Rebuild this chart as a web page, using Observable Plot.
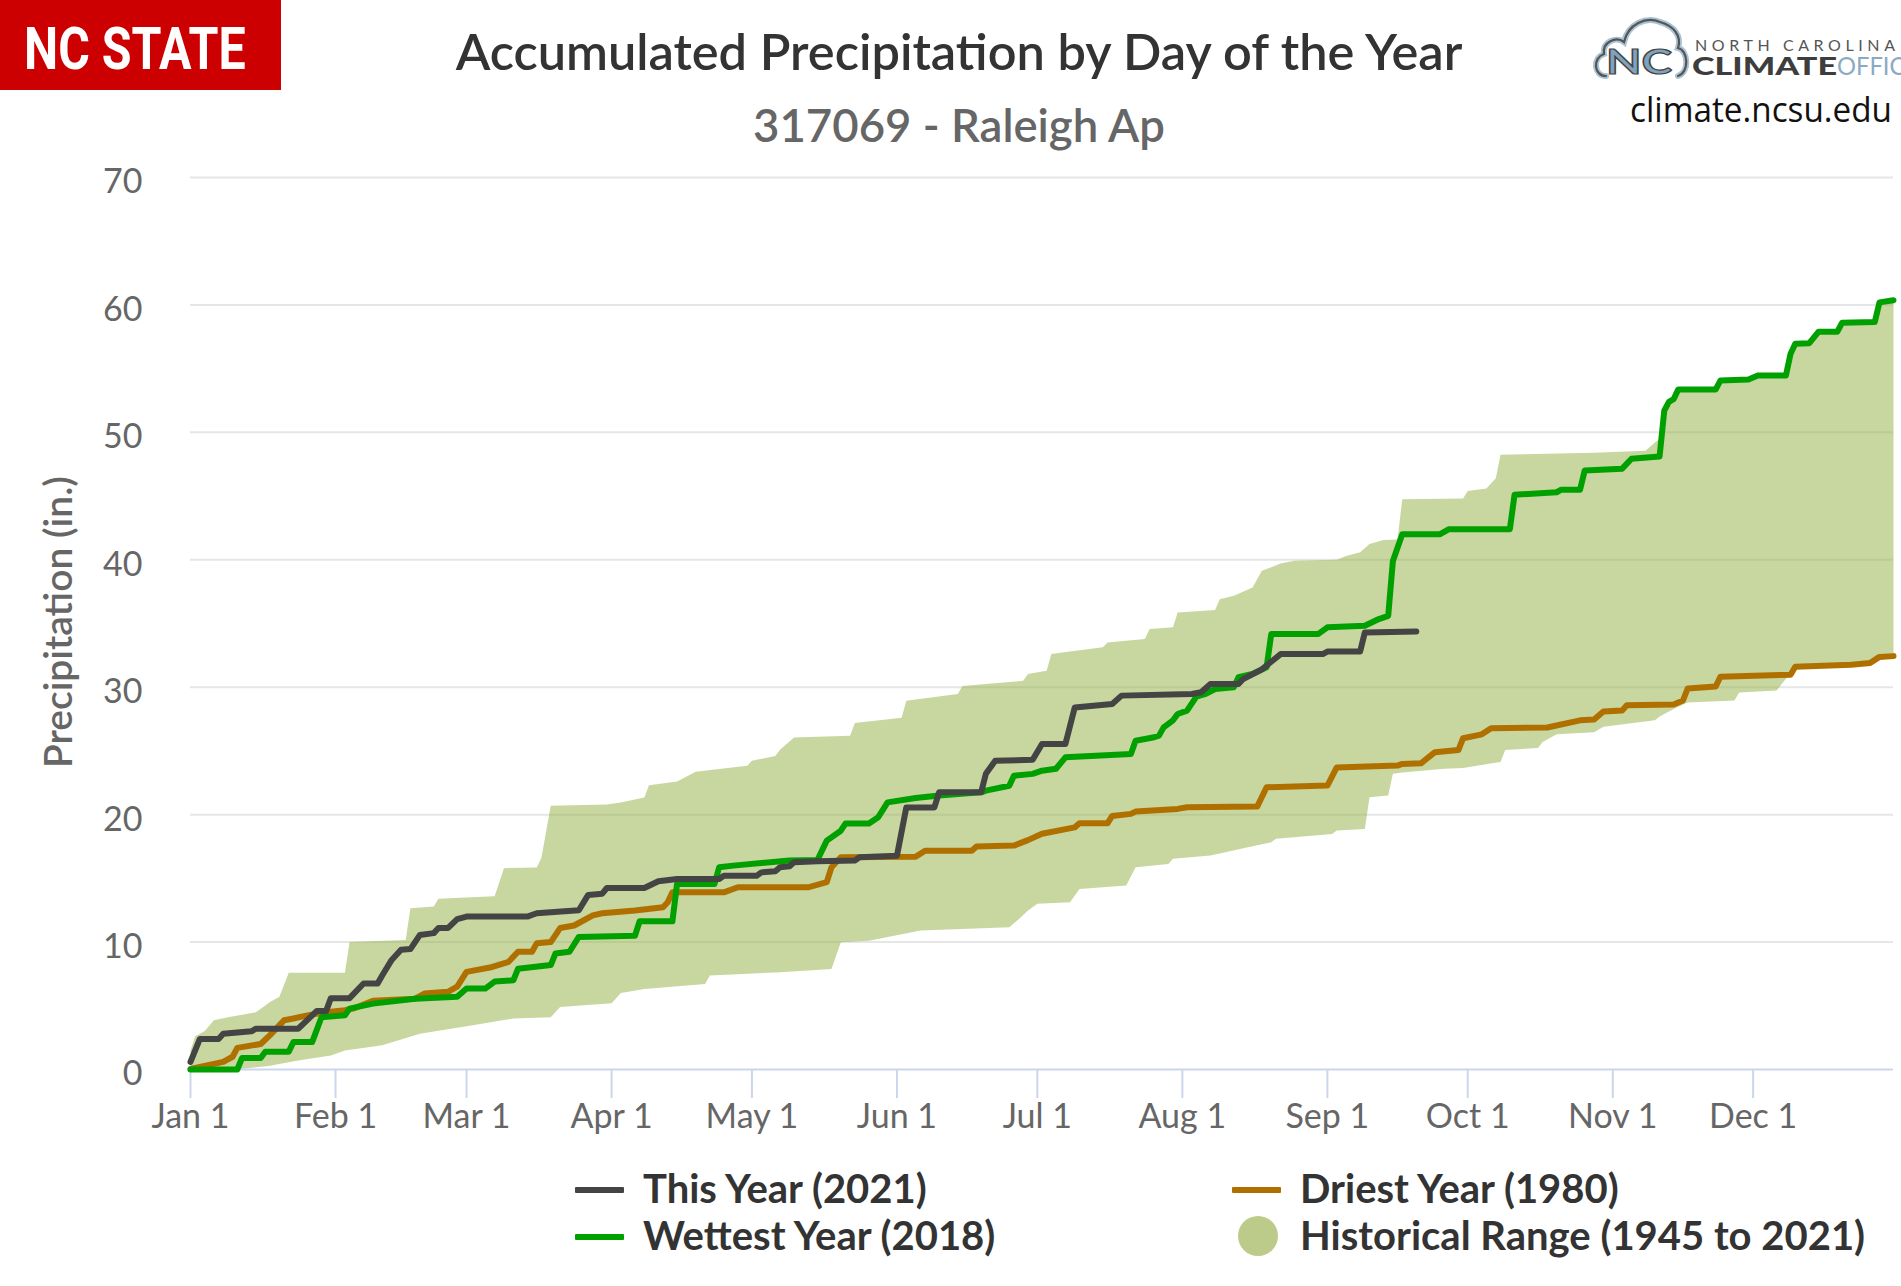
<!DOCTYPE html>
<html>
<head>
<meta charset="utf-8">
<script src="https://cdn.jsdelivr.net/npm/d3@7"></script>
<script src="https://cdn.jsdelivr.net/npm/@observablehq/plot@0.6"></script>
<style>
  html, body { margin: 0; padding: 0; background: #fff; }
  body { width: 1901px; height: 1286px; position: relative; overflow: hidden; font-family: Lato, "Open Sans", sans-serif; }
  .abs { position: absolute; white-space: nowrap; }
  #title { left: 409px; width: 1100px; text-align: center; top: 26px; font-size: 50.5px; line-height: 50.5px; font-weight: 600; color: #333; }
  #subtitle { left: 659px; width: 600px; text-align: center; top: 102px; font-size: 45.5px; line-height: 45.5px; font-weight: 600; color: #666; }
  #ytitle { left: -143px; top: 603px; width: 400px; height: 38px; line-height: 38px; text-align: center; font-size: 39px; font-weight: 600; color: #666; transform: rotate(-90deg); transform-origin: 200px 19px; }
  #chart { left: 0; top: 140px; }
  .leg { font-size: 40px; line-height: 40px; font-weight: 700; color: #333; }
  .sw { height: 6px; width: 49px; border-radius: 1px; }
</style>
</head>
<body>
<svg class="abs" style="left:0;top:0" width="281" height="90">
  <rect x="0" y="0" width="281" height="90" fill="#cc0000"/>
  <text transform="translate(24,69) scale(0.82,1)" font-family="Roboto, 'Liberation Sans', sans-serif" font-weight="700" font-size="59" fill="#fff">NC STATE</text>
</svg>
<div id="title" class="abs">Accumulated Precipitation by Day of the Year</div>
<div id="subtitle" class="abs">317069 - Raleigh Ap</div>
<svg class="abs" style="left:1590px;top:0" width="311" height="135">
  <path d="M16 76 C4 76 2 58 14 54 C12 42 26 36 34 42 C38 24 56 16 70 22 C84 26 92 36 88 48 C98 50 100 72 88 76" fill="none" stroke="#a9c2d4" stroke-width="6" stroke-linecap="round"/>
  <path d="M16 76 C4 76 2 58 14 54 C12 42 26 36 34 42 C38 24 56 16 70 22 C84 26 92 36 88 48 C98 50 100 72 88 76" fill="none" stroke="#555" stroke-width="2.2" stroke-linecap="round"/>
  <text x="16" y="74" font-family="Lato, sans-serif" font-weight="700" font-size="34" fill="#7fa3bd" stroke="#444" stroke-width="1.2" textLength="66" lengthAdjust="spacingAndGlyphs">NC</text>
  <text x="105" y="51" font-family="Lato, sans-serif" font-size="16" fill="#555" textLength="200" lengthAdjust="spacing">NORTH CAROLINA</text>
  <text x="102" y="75" font-family="Lato, sans-serif" font-weight="900" font-size="25" fill="#3d3d3d" textLength="145" lengthAdjust="spacingAndGlyphs">CLIMATE</text>
  <text x="247" y="75" font-family="Lato, sans-serif" font-weight="400" font-size="25" fill="#8aaac2" textLength="82" lengthAdjust="spacingAndGlyphs">OFFICE</text>
  <text x="40" y="122" font-family="'Open Sans', sans-serif" font-size="34" fill="#111" textLength="262" lengthAdjust="spacingAndGlyphs">climate.ncsu.edu</text>
</svg>
<div id="ytitle" class="abs">Precipitation (in.)</div>
<div id="chart" class="abs"></div>

<div class="abs sw" style="left:575px;top:1187px;background:#444444"></div>
<div class="abs leg" style="left:643px;top:1168px">This Year (2021)</div>
<div class="abs sw" style="left:575px;top:1234px;background:#00a000"></div>
<div class="abs leg" style="left:643px;top:1215px">Wettest Year (2018)</div>
<div class="abs sw" style="left:1232px;top:1187px;background:#b07000"></div>
<div class="abs leg" style="left:1300px;top:1168px">Driest Year (1980)</div>
<div class="abs" style="left:1238px;top:1216px;width:40px;height:40px;border-radius:50%;background:#bccb8a"></div>
<div class="abs leg" style="left:1300px;top:1215px">Historical Range (1945 to 2021)</div>

<script>
// ---- data (day of year index from Jan 1 = 0, accumulated inches) ----
const monthDays = [0, 31, 59, 90, 120, 151, 181, 212, 243, 273, 304, 334];
const monthLabels = ["Jan 1", "Feb 1", "Mar 1", "Apr 1", "May 1", "Jun 1", "Jul 1", "Aug 1", "Sep 1", "Oct 1", "Nov 1", "Dec 1"];
const yTicks = [0, 10, 20, 30, 40, 50, 60, 70];

const thisYear2021 = [[0,0.6],[2,2.4],[6,2.4],[7,2.8],[13,3.0],[14,3.2],[23,3.2],[25,3.9],[27,4.6],[29,4.6],[30,5.6],[34,5.6],[37,6.75],[40,6.75],[41,7.4],[43,8.6],[45,9.4],[47,9.45],[49,10.55],[52,10.7],[53,11.1],[55,11.1],[57,11.8],[59,12.0],[72,12.0],[74,12.26],[83,12.5],[85,13.7],[88,13.8],[89,14.24],[97,14.24],[100,14.77],[104,14.95],[113,14.95],[114,15.2],[121,15.2],[122,15.47],[125,15.55],[126,15.87],[128,15.94],[129,16.26],[134,16.34],[142,16.4],[143,16.65],[151,16.78],[153,20.57],[159,20.57],[160,21.75],[169,21.75],[170,23.2],[172,24.23],[180,24.3],[182,25.55],[187,25.55],[189,28.4],[197,28.68],[199,29.34],[214,29.47],[216,29.6],[218,30.25],[224,30.25],[225,30.64],[229,31.4],[233,32.6],[242,32.6],[243,32.8],[250,32.8],[251,34.3],[262,34.38]];

const wettest2018 = [[0,0],[10,0],[11,0.9],[15,0.9],[16,1.4],[21,1.4],[22,2.15],[26,2.15],[28,4.1],[33,4.25],[34,4.78],[39,5.17],[48,5.56],[57,5.7],[59,6.35],[63,6.35],[65,6.9],[69,7.0],[70,7.9],[77,8.2],[78,9.1],[81,9.24],[83,10.4],[95,10.5],[96,11.63],[103,11.63],[104,14.56],[112,14.56],[113,15.87],[116,16.0],[128,16.4],[134,16.44],[136,17.96],[139,18.74],[140,19.3],[145,19.3],[147,19.8],[149,20.96],[155,21.3],[160,21.5],[169,21.75],[170,21.88],[175,22.27],[176,23.05],[180,23.2],[182,23.45],[185,23.6],[187,24.5],[201,24.76],[202,25.8],[206,26.07],[207,26.2],[208,26.85],[210,27.4],[211,27.9],[213,28.16],[215,29.26],[217,29.47],[219,29.86],[223,30.0],[224,30.78],[227,31.04],[230,31.56],[231,34.17],[241,34.17],[243,34.7],[251,34.83],[254,35.35],[256,35.6],[257,39.9],[259,42.0],[267,42.0],[269,42.4],[282,42.4],[283,45.1],[292,45.3],[293,45.5],[297,45.5],[298,47.0],[306,47.15],[308,47.93],[314,48.1],[315,51.7],[316,52.4],[317,52.6],[318,53.37],[326,53.37],[327,54.06],[333,54.15],[335,54.46],[341,54.46],[342,56.17],[343,56.95],[346,57.0],[348,57.9],[352,57.9],[353,58.6],[360,58.66],[361,60.2],[364,60.37]];

const driest1980 = [[0,0.05],[7,0.6],[9,1.0],[10,1.7],[15,2.0],[17,2.7],[20,3.86],[22,4.0],[25,4.25],[29,4.5],[33,4.65],[35,4.8],[39,5.4],[48,5.56],[50,5.96],[55,6.1],[57,6.5],[59,7.66],[64,8.0],[68,8.45],[70,9.24],[73,9.24],[74,9.9],[77,10.0],[79,11.1],[82,11.3],[86,12.1],[88,12.26],[95,12.47],[101,12.73],[102,13.12],[103,13.9],[114,13.9],[117,14.3],[132,14.3],[136,14.7],[137,15.87],[139,16.65],[155,16.7],[157,17.17],[167,17.17],[168,17.5],[176,17.57],[179,18.0],[182,18.5],[189,19.0],[190,19.32],[196,19.32],[197,19.9],[201,20.06],[202,20.24],[211,20.45],[213,20.58],[228,20.63],[230,22.15],[243,22.28],[245,23.7],[258,23.85],[259,23.98],[263,24.03],[266,24.9],[271,25.07],[272,26.0],[276,26.3],[278,26.78],[290,26.84],[297,27.4],[300,27.46],[302,28.1],[306,28.18],[307,28.58],[317,28.65],[319,28.96],[320,29.9],[326,30.05],[327,30.82],[342,30.98],[343,31.6],[355,31.76],[359,31.9],[361,32.38],[364,32.44]];

const rangeUpper = [[0,1.5],[1,2.6],[3,3.0],[5,3.86],[8,4.1],[14,4.5],[17,5.3],[19,5.7],[21,7.6],[33,7.6],[34,10.0],[46,10.16],[47,12.65],[52,12.8],[53,13.4],[65,13.6],[67,15.8],[74,15.85],[75,16.6],[77,20.7],[89,20.8],[92,20.96],[97,21.35],[98,22.3],[104,22.6],[108,23.37],[113,23.58],[119,23.84],[120,24.23],[125,24.6],[126,25.1],[129,26.06],[141,26.19],[142,27.2],[152,27.6],[153,28.94],[164,29.46],[165,30.1],[178,30.5],[179,31.03],[183,31.29],[184,32.6],[188,32.8],[195,33.13],[196,33.5],[204,33.78],[205,34.57],[210,34.7],[211,35.87],[219,36.06],[220,36.9],[223,37.18],[227,37.83],[229,39.14],[233,39.7],[236,39.93],[245,40.0],[247,40.3],[250,40.6],[252,41.23],[255,41.55],[258,41.6],[259,44.76],[272,44.8],[273,45.4],[277,45.6],[279,46.4],[280,48.24],[300,48.4],[311,48.55],[313,49.2],[314,49.5],[315,51.7],[316,52.4],[317,52.6],[318,53.37],[326,53.37],[327,54.06],[333,54.15],[335,54.46],[341,54.46],[342,56.17],[343,56.95],[346,57.0],[348,57.9],[352,57.9],[353,58.6],[360,58.66],[361,60.2],[364,60.37]];

const rangeLower = [[0,0],[10,0],[17,0.3],[23,0.7],[30,1.1],[33,1.5],[41,1.9],[49,2.8],[60,3.46],[69,4.0],[77,4.1],[79,4.9],[90,5.2],[92,6.0],[97,6.32],[110,6.7],[111,7.37],[126,7.63],[137,7.89],[139,9.98],[145,10.1],[156,10.9],[175,11.16],[177,11.8],[179,12.47],[181,13.0],[188,13.13],[190,14.17],[200,14.43],[202,15.87],[209,16.13],[210,16.53],[218,16.8],[226,17.44],[231,17.83],[232,18.1],[244,18.49],[245,18.75],[251,18.88],[252,21.36],[256,21.5],[257,23.2],[259,23.3],[268,23.6],[272,23.67],[280,24.14],[281,25.07],[288,25.23],[289,25.7],[292,26.3],[300,26.47],[302,26.9],[313,27.4],[314,27.7],[317,28.3],[320,28.8],[330,28.96],[331,29.58],[339,29.74],[341,30.66],[342,30.98],[343,31.6],[355,31.76],[359,31.9],[361,32.38],[364,32.44]];

// ---- chart ----
const bandPolygon = [...rangeUpper, ...rangeLower.slice().reverse()];

const chart = Plot.plot({
  width: 1901,
  height: 1000,
  marginTop: 37,
  marginBottom: 71,
  marginLeft: 190,
  marginRight: 8,
  style: { fontFamily: "Lato, sans-serif", background: "transparent", overflow: "visible" },
  x: { domain: [0, 364] },
  y: { domain: [0, 70] },
  marks: [
    Plot.gridY(yTicks.filter(d => d > 0), { stroke: "#e6e6e6", strokeOpacity: 1, strokeWidth: 2 }),
    Plot.line(bandPolygon, { x: d => d[0], y: d => d[1], fill: "rgb(145,173,65)", fillOpacity: 0.5, stroke: "none" }),
    Plot.ruleY([0], { stroke: "#ccd6eb", strokeWidth: 2 }),
    Plot.axisX({
      ticks: monthDays,
      tickFormat: d => monthLabels[monthDays.indexOf(d)],
      tickSize: 29, tickPadding: 5, stroke: "#ccd6eb", strokeWidth: 2, fill: "#666",
      fontSize: 34, label: null
    }),
    Plot.axisY({
      ticks: yTicks, tickSize: 0, tickPadding: 48, fill: "#666", fontSize: 34, dy: 5, label: null
    }),
    Plot.line(driest1980, { x: d => d[0], y: d => d[1], stroke: "#b07000", strokeWidth: 6 }),
    Plot.line(wettest2018, { x: d => d[0], y: d => d[1], stroke: "#00a000", strokeWidth: 6 }),
    Plot.line(thisYear2021, { x: d => d[0], y: d => d[1], stroke: "#444444", strokeWidth: 6 })
  ]
});
document.getElementById("chart").appendChild(chart);
</script>
</body>
</html>
